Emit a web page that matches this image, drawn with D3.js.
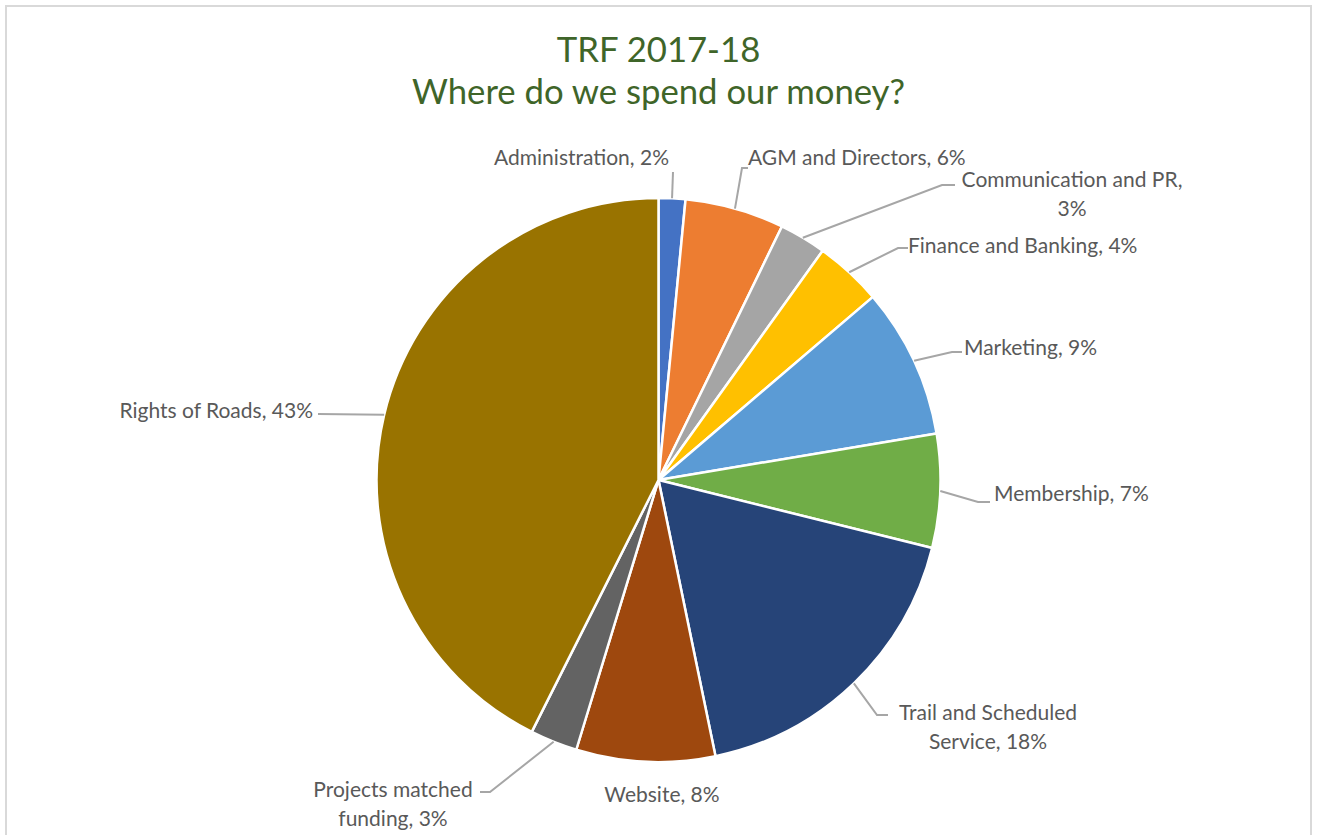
<!DOCTYPE html>
<html lang="en">
  <head>
    <meta charset="UTF-8" />
    <title>TRF 2017-18</title>
    <script src="https://cdn.jsdelivr.net/npm/d3@7/dist/d3.min.js"></script>
    <style>
      body { margin: 0; background: #ffffff; }
      svg { display: block; }
      .lbl { font-family: Lato, "Open Sans", sans-serif; font-size: 21px; fill: #595959; }
      .ttl { font-family: Lato, "Open Sans", sans-serif; font-size: 34.7px; fill: #3f6529; }
    </style>
  </head>
  <body>
    <svg id="chart" width="1317" height="835"></svg>
    <script>
      // data (share of spend, %)
      const categories = ["Administration", "AGM and Directors", "Communication and PR", "Finance and Banking",
        "Marketing", "Membership", "Trail and Scheduled Service", "Website", "Projects matched funding", "Rights of Roads"];
      const values = [1.53, 5.68, 2.68, 3.86, 8.61, 6.52, 17.88, 7.95, 2.71, 42.58];
      const colors = ["#4472C4", "#ED7D31", "#A5A5A5", "#FFC000", "#5B9BD5", "#70AD47", "#264478", "#9E480E", "#636363", "#997300"];
      const titleLines = ["TRF 2017-18", "Where do we spend our money?"];

      // label layout (how the text is broken and where it sits)
      const labelLines = [
        ["Administration, 2%"], ["AGM and Directors, 6%"], ["Communication and PR,", "3%"], ["Finance and Banking, 4%"],
        ["Marketing, 9%"], ["Membership, 7%"], ["Trail and Scheduled", "Service, 18%"], ["Website, 8%"],
        ["Projects matched", "funding, 3%"], ["Rights of Roads, 43%"]
      ];
      // x,y = text anchor point; line = leader line points after the slice edge (null = no leader)
      const labelLayout = [
        { x: 669, y: 165, anchor: "end", line: [[673, 172]] },
        { x: 748, y: 165, anchor: "start", line: [[742, 168], [748, 168]] },
        { x: 1072, y: 187, anchor: "middle", line: [[942, 185], [955, 185]] },
        { x: 908, y: 253, anchor: "start", line: [[898, 248], [908, 248]] },
        { x: 964, y: 355, anchor: "start", line: [[952, 352], [962, 352]] },
        { x: 994, y: 501, anchor: "start", line: [[978, 502], [990, 502]] },
        { x: 988, y: 720, anchor: "middle", line: [[877, 715], [888, 715]] },
        { x: 662, y: 802, anchor: "middle", line: null },
        { x: 393, y: 797, anchor: "middle", line: [[490, 792], [480, 792]] },
        { x: 313, y: 418, anchor: "end", line: [[318, 414]] }
      ];

      const W = 1317, H = 835;
      const cx = 658.5, cy = 480, R = 282;

      const svg = d3.select("#chart");

      // chart area border
      svg.append("rect")
        .attr("x", 6).attr("y", 6)
        .attr("width", 1305).attr("height", H)
        .attr("fill", "#ffffff")
        .attr("stroke", "#d9d9d9")
        .attr("stroke-width", 2);

      svg.selectAll("text.ttl")
        .data(titleLines)
        .enter()
        .append("text")
        .attr("class", "ttl")
        .attr("x", cx)
        .attr("y", (d, i) => 62 + i * 42)
        .attr("text-anchor", "middle")
        .text(d => d);

      const pie = d3.pie().sort(null).value(d => d);
      const arcs = pie(values);
      const arc = d3.arc().innerRadius(0).outerRadius(R);

      const g = svg.append("g").attr("transform", `translate(${cx},${cy})`);

      g.selectAll("path")
        .data(arcs)
        .enter()
        .append("path")
        .attr("d", arc)
        .attr("fill", (d, i) => colors[i])
        .attr("stroke", "#ffffff")
        .attr("stroke-width", 2.5)
        .attr("stroke-linejoin", "round");

      // leader lines start on the outer edge at each slice's middle angle
      const edge = d => {
        const a = (d.startAngle + d.endAngle) / 2;
        return [cx + R * Math.sin(a), cy - R * Math.cos(a)];
      };

      arcs.forEach((d, i) => {
        const lay = labelLayout[i];
        if (lay.line) {
          const pts = [edge(d)].concat(lay.line);
          svg.append("path")
            .attr("d", d3.line()(pts))
            .attr("fill", "none")
            .attr("stroke", "#a6a6a6")
            .attr("stroke-width", 2);
        }
        const t = svg.append("text")
          .attr("class", "lbl")
          .attr("text-anchor", lay.anchor);
        labelLines[i].forEach((s, k) => {
          t.append("tspan")
            .attr("x", lay.x)
            .attr("y", lay.y + k * 29)
            .text(s);
        });
      });
    </script>
  </body>
</html>
